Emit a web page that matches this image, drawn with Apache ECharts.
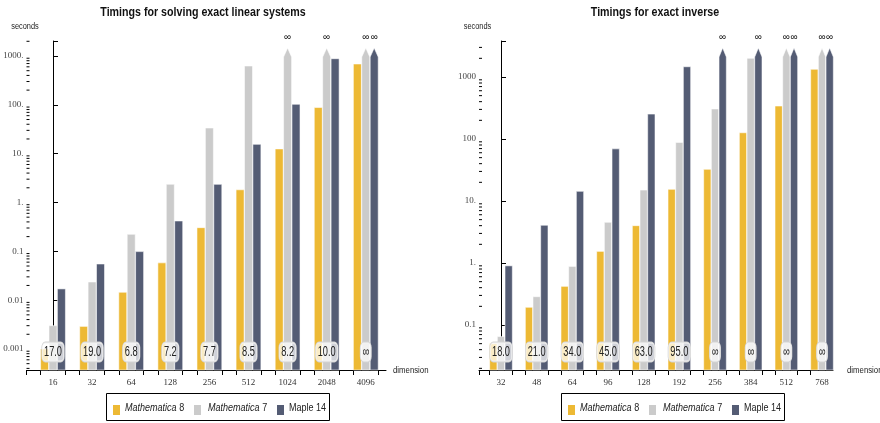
<!DOCTYPE html>
<html>
<head>
<meta charset="utf-8">
<script src="https://cdn.jsdelivr.net/npm/echarts@6/dist/echarts.min.js"></script>
<style>
  html, body { margin: 0; padding: 0; background: #fff; }
  #chart { width: 880px; height: 423px; }
</style>
</head>
<body>
<div id="chart"></div>
<script>
const INF = Infinity;
const seriesNames = ['Mathematica 8', 'Mathematica 7', 'Maple 14'];

// Timings for solving exact linear systems (seconds)
const solveDims = ['16', '32', '64', '128', '256', '512', '1024', '2048', '4096'];
const solveM8 = [0.001, 0.0029, 0.0145, 0.058, 0.305, 1.82, 12.5, 88, 686];
const solveM7 = [0.0030, 0.0235, 0.223, 2.36, 33.5, 624, INF, INF, INF];
const solveMaple = [0.017, 0.055, 0.0986, 0.418, 2.35, 15.5, 102.5, 880, INF];
const solveRatio = ['17.0', '19.0', '6.8', '7.2', '7.7', '8.5', '8.2', '10.0', '∞'];
const solveTickLabels = ['0.001', '0.01', '0.1', '1.', '10.', '100.', '1000.'];

// Timings for exact inverse (seconds)
const invDims = ['32', '48', '64', '96', '128', '192', '256', '384', '512', '768'];
const invM8 = [0.05, 0.193, 0.42, 1.54, 4.0, 15.4, 32.4, 126, 340, 1330];
const invM7 = [0.065, 0.286, 0.88, 4.53, 15.0, 88, 305, 2000, INF, INF];
const invMaple = [0.9, 4.06, 14.3, 69.3, 252, 1463, INF, INF, INF, INF];
const invRatio = ['18.0', '21.0', '34.0', '45.0', '63.0', '95.0', '∞', '∞', '∞', '∞'];
const invTickLabels = ['0.1', '1.', '10.', '100', '1000'];

const COLORS = ['#EDB934', '#CBCBCB', '#545C74'];
const SANS = '"Liberation Sans", Arial, sans-serif';
const SERIF = '"Liberation Serif", "DejaVu Serif", serif';
const NARROW = 0.82;   // horizontal squeeze giving a narrow sans face

// bar geometry in category units
const BAR_W = 0.205;
const BAR_STEP = 0.215;
const EDGE = BAR_STEP + BAR_W / 2;
const ARROW_H = 9;

function buildPanel(idx, cfg) {
  const firstExp = Math.round(Math.log10(cfg.firstTick));
  const xMin = cfg.xMin;
  const yMin = cfg.yMin;

  const edgeTicks = [xMin];
  cfg.dims.forEach((d, i) => { edgeTicks.push(i - EDGE, i + EDGE); });

  const grid = Object.assign({ containLabel: false }, cfg.grid);

  const xAxis = {
    gridIndex: idx, type: 'value', min: xMin, max: cfg.xMax,
    splitLine: { show: false },
    axisLine: { lineStyle: { color: '#000', width: 1 } },
    axisTick: { customValues: edgeTicks, length: 5, lineStyle: { color: '#000' } },
    axisLabel: {
      customValues: cfg.dims.map((d, i) => i),
      formatter: v => cfg.dims[Math.round(v)],
      fontFamily: SERIF, fontSize: 9, color: '#333', margin: 8
    }
  };

  const yAxis = {
    gridIndex: idx, type: 'log', logBase: 10, min: yMin, max: cfg.yMax,
    splitLine: { show: false },
    axisLine: { show: true, lineStyle: { color: '#000', width: 1 } },
    axisTick: { inside: true, length: 5, lineStyle: { color: '#000' } },
    axisLabel: {
      fontFamily: SERIF, fontSize: 9, color: '#444', margin: 3,
      formatter: v => {
        const e = Math.log10(v);
        const r = Math.round(e);
        if (Math.abs(e - r) > 1e-6) return '';
        const lbl = cfg.tickLabels[r - firstExp];
        return lbl === undefined ? '' : lbl;
      }
    }
  };

  const series = [];
  cfg.values.forEach((vals, k) => {
    series.push({
      type: 'custom', name: seriesNames[k],
      xAxisIndex: idx, yAxisIndex: idx,
      itemStyle: { color: COLORS[k] },
      z: 2,
      data: vals.map((v, i) => [i, isFinite(v) ? v : cfg.infTop]),
      renderItem: (params, api) => {
        const i = api.value(0);
        const v = vals[params.dataIndex];
        const xc = i + (k - 1) * BAR_STEP;
        const base = api.coord([xc, yMin]);
        const left = api.coord([xc - BAR_W / 2, yMin])[0];
        const right = api.coord([xc + BAR_W / 2, yMin])[0];
        const stroke = 'rgba(255,255,255,0.55)';
        if (isFinite(v)) {
          const top = api.coord([xc, v])[1];
          return {
            type: 'rect',
            shape: { x: left, y: top, width: right - left, height: base[1] - top },
            style: { fill: COLORS[k], stroke: stroke, lineWidth: 1 }
          };
        }
        // unbounded timing: bar runs to the top and ends in an arrow head
        const tip = api.coord([xc, cfg.infTop]);
        return {
          type: 'group',
          children: [
            {
              type: 'polygon',
              shape: { points: [
                [left, base[1]], [left, tip[1] + ARROW_H], [tip[0], tip[1]],
                [right, tip[1] + ARROW_H], [right, base[1]]
              ] },
              style: { fill: COLORS[k], stroke: stroke, lineWidth: 1 }
            },
            {
              type: 'text', x: tip[0], y: tip[1] - 11,
              style: {
                text: '∞', x: 0, y: 0,
                align: 'center', verticalAlign: 'middle',
                fontSize: 10, fontFamily: SANS, fill: '#111'
              }
            }
          ]
        };
      }
    });
  });

  // minor ticks of the logarithmic axis
  const minorTicks = [];
  for (let e = Math.floor(Math.log10(yMin)); e <= Math.ceil(Math.log10(cfg.yMax)); e++) {
    for (let m = 2; m <= 9; m++) {
      const t = m * Math.pow(10, e);
      if (t > yMin && t < cfg.yMax) minorTicks.push([xMin, t]);
    }
  }
  series.push({
    type: 'custom', xAxisIndex: idx, yAxisIndex: idx, silent: true, z: 3,
    data: minorTicks,
    renderItem: (params, api) => {
      const p = api.coord([api.value(0), api.value(1)]);
      return {
        type: 'line',
        shape: { x1: p[0], y1: p[1], x2: p[0] + 3, y2: p[1] },
        style: { stroke: '#000', lineWidth: 1 }
      };
    }
  });

  // speed-up ratio boxes above the dimension axis
  series.push({
    type: 'custom', xAxisIndex: idx, yAxisIndex: idx, silent: true, z: 5,
    data: cfg.ratio.map((r, i) => [i, yMin]),
    renderItem: (params, api) => {
      const p = api.coord([api.value(0), api.value(1)]);
      return {
        type: 'text', x: p[0], y: p[1] - 18, scaleX: 0.66,
        style: {
          text: cfg.ratio[params.dataIndex], x: 0, y: 0,
          align: 'center', verticalAlign: 'middle',
          fontSize: 14, fontFamily: SANS, fill: '#222',
          backgroundColor: 'rgba(255,255,255,0.72)',
          borderColor: '#d4d4d4', borderWidth: 1, borderRadius: 5,
          padding: [3, 3, 2, 3]
        }
      };
    }
  });

  return { grid, xAxis, yAxis, series };
}

const leftGrid = { left: 26.5, top: 41, width: 359.5, height: 329 };
const rightGrid = { left: 479, top: 41, width: 354, height: 329 };

const left = buildPanel(0, {
  dims: solveDims, values: [solveM8, solveM7, solveMaple], ratio: solveRatio,
  tickLabels: solveTickLabels, firstTick: 0.001,
  yMin: 0.000371, yMax: 2028, infTop: 1459,
  xMin: -0.678, xMax: 8.517, grid: leftGrid
});
const right = buildPanel(1, {
  dims: invDims, values: [invM8, invM7, invMaple], ratio: invRatio,
  tickLabels: invTickLabels, firstTick: 0.1,
  yMin: 0.0188, yMax: 3805, infTop: 2940,
  xMin: -0.617, xMax: 9.308, grid: rightGrid
});

function narrowText(x, y, text, size, extra) {
  return {
    type: 'text', x: x, y: y, scaleX: NARROW, silent: true,
    style: Object.assign({
      text: text, x: 0, y: 0, fontSize: size, fontFamily: SANS, fill: '#222',
      align: 'center', verticalAlign: 'middle'
    }, extra || {})
  };
}

// framed legend box listing the three systems
function legendBox(bx, by) {
  const iconX = [7, 88, 171];
  const textX = [19, 102, 183];
  const children = [{
    type: 'rect', shape: { x: 0.5, y: 0.5, width: 223, height: 27 },
    style: { fill: '#fff', stroke: '#000', lineWidth: 1 }
  }];
  seriesNames.forEach((n, k) => {
    children.push({
      type: 'rect', shape: { x: iconX[k], y: 12, width: 7, height: 10 },
      style: { fill: COLORS[k] }
    });
    const txt = n.indexOf('Mathematica') === 0 ? '{i|Mathematica}' + n.slice(11) : n;
    children.push(narrowText(textX[k], 15, txt, 11, {
      align: 'left',
      rich: { i: { fontStyle: 'italic', fontSize: 11, fontFamily: SANS, fill: '#222' } }
    }));
  });
  return { type: 'group', x: bx, y: by, silent: true, children: children };
}

const graphics = [
  narrowText(203, 12, 'Timings for solving exact linear systems', 13, { fontWeight: 'bold', fill: '#111' }),
  narrowText(655, 12, 'Timings for exact inverse', 13, { fontWeight: 'bold', fill: '#111' }),
  narrowText(leftGrid.left - 1.5, 27, 'seconds', 9),
  narrowText(rightGrid.left - 1.5, 27, 'seconds', 9),
  narrowText(leftGrid.left + leftGrid.width + 7, leftGrid.top + leftGrid.height, 'dimension', 9.5, { align: 'left' }),
  narrowText(rightGrid.left + rightGrid.width + 14, rightGrid.top + rightGrid.height, 'dimension', 9.5, { align: 'left' }),
  legendBox(106, 393),
  legendBox(561, 393)
];

const chart = echarts.init(document.getElementById('chart'), null, { renderer: 'canvas' });
chart.setOption({
  animation: false,
  backgroundColor: '#fff',
  grid: [left.grid, right.grid],
  xAxis: [left.xAxis, right.xAxis],
  yAxis: [left.yAxis, right.yAxis],
  series: left.series.concat(right.series),
  graphic: graphics
});
</script>
</body>
</html>
